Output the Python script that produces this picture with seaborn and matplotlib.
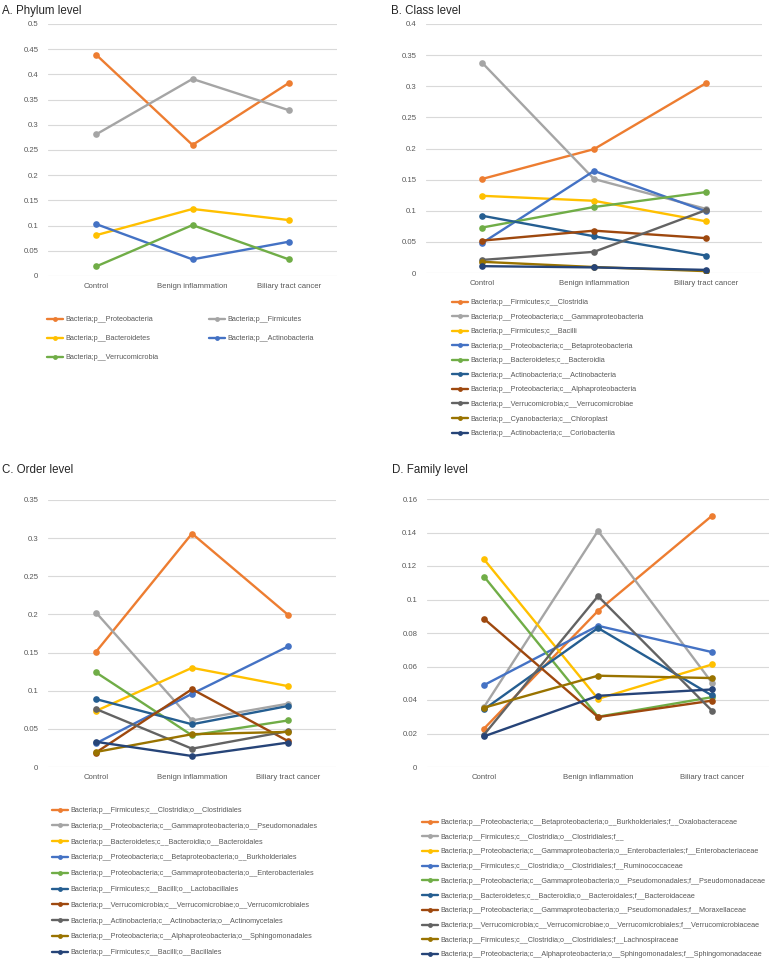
import pandas as pd
import numpy as np
import seaborn as sns
import matplotlib.pyplot as plt
from matplotlib.lines import Line2D
from matplotlib.ticker import FuncFormatter

groups = ['Control', 'Benign inflammation', 'Biliary tract cancer']

# Office palette, used in legend order
colors = ['#ED7D31', '#A5A5A5', '#FFC000', '#4472C4', '#70AD47',
          '#255E91', '#9E480E', '#636363', '#997300', '#264478']

phylum_taxa = ['Bacteria;p__Proteobacteria', 'Bacteria;p__Firmicutes',
               'Bacteria;p__Bacteroidetes', 'Bacteria;p__Actinobacteria',
               'Bacteria;p__Verrucomicrobia']
phylum_values = [
    [0.439, 0.260, 0.383],
    [0.281, 0.391, 0.329],
    [0.081, 0.133, 0.111],
    [0.103, 0.033, 0.068],
    [0.019, 0.101, 0.033],
]

class_taxa = ['Bacteria;p__Firmicutes;c__Clostridia',
              'Bacteria;p__Proteobacteria;c__Gammaproteobacteria',
              'Bacteria;p__Firmicutes;c__Bacilli',
              'Bacteria;p__Proteobacteria;c__Betaproteobacteria',
              'Bacteria;p__Bacteroidetes;c__Bacteroidia',
              'Bacteria;p__Actinobacteria;c__Actinobacteria',
              'Bacteria;p__Proteobacteria;c__Alphaproteobacteria',
              'Bacteria;p__Verrucomicrobia;c__Verrucomicrobiae',
              'Bacteria;p__Cyanobacteria;c__Chloroplast',
              'Bacteria;p__Actinobacteria;c__Coriobacteriia']
class_values = [
    [0.151, 0.199, 0.305],
    [0.338, 0.151, 0.103],
    [0.124, 0.116, 0.083],
    [0.048, 0.164, 0.099],
    [0.073, 0.106, 0.130],
    [0.092, 0.059, 0.028],
    [0.052, 0.068, 0.056],
    [0.021, 0.034, 0.101],
    [0.018, 0.0096, 0.003],
    [0.011, 0.009, 0.005],
]

order_taxa = ['Bacteria;p__Firmicutes;c__Clostridia;o__Clostridiales',
              'Bacteria;p__Proteobacteria;c__Gammaproteobacteria;o__Pseudomonadales',
              'Bacteria;p__Bacteroidetes;c__Bacteroidia;o__Bacteroidales',
              'Bacteria;p__Proteobacteria;c__Betaproteobacteria;o__Burkholderiales',
              'Bacteria;p__Proteobacteria;c__Gammaproteobacteria;o__Enterobacteriales',
              'Bacteria;p__Firmicutes;c__Bacilli;o__Lactobacillales',
              'Bacteria;p__Verrucomicrobia;c__Verrucomicrobiae;o__Verrucomicrobiales',
              'Bacteria;p__Actinobacteria;c__Actinobacteria;o__Actinomycetales',
              'Bacteria;p__Proteobacteria;c__Alphaproteobacteria;o__Sphingomonadales',
              'Bacteria;p__Firmicutes;c__Bacilli;o__Bacillales']
order_values = [
    [0.151, 0.306, 0.1995],
    [0.2025, 0.061, 0.083],
    [0.0735, 0.130, 0.106],
    [0.031, 0.096, 0.158],
    [0.124, 0.0415, 0.061],
    [0.089, 0.056, 0.080],
    [0.019, 0.102, 0.034],
    [0.076, 0.024, 0.047],
    [0.0197, 0.043, 0.046],
    [0.033, 0.0144, 0.032],
]

family_taxa = ['Bacteria;p__Proteobacteria;c__Betaproteobacteria;o__Burkholderiales;f__Oxalobacteraceae',
               'Bacteria;p__Firmicutes;c__Clostridia;o__Clostridiales;f__',
               'Bacteria;p__Proteobacteria;c__Gammaproteobacteria;o__Enterobacteriales;f__Enterobacteriaceae',
               'Bacteria;p__Firmicutes;c__Clostridia;o__Clostridiales;f__Ruminococcaceae',
               'Bacteria;p__Proteobacteria;c__Gammaproteobacteria;o__Pseudomonadales;f__Pseudomonadaceae',
               'Bacteria;p__Bacteroidetes;c__Bacteroidia;o__Bacteroidales;f__Bacteroidaceae',
               'Bacteria;p__Proteobacteria;c__Gammaproteobacteria;o__Pseudomonadales;f__Moraxellaceae',
               'Bacteria;p__Verrucomicrobia;c__Verrucomicrobiae;o__Verrucomicrobiales;f__Verrucomicrobiaceae',
               'Bacteria;p__Firmicutes;c__Clostridia;o__Clostridiales;f__Lachnospiraceae',
               'Bacteria;p__Proteobacteria;c__Alphaproteobacteria;o__Sphingomonadales;f__Sphingomonadaceae']
family_values = [
    [0.0229, 0.0932, 0.150],
    [0.0358, 0.141, 0.0503],
    [0.124, 0.0407, 0.0612],
    [0.0489, 0.0843, 0.0686],
    [0.1137, 0.030, 0.0417],
    [0.0344, 0.083, 0.0427],
    [0.0885, 0.0298, 0.0396],
    [0.0193, 0.102, 0.0336],
    [0.0354, 0.0545, 0.0531],
    [0.0183, 0.0425, 0.0463],
]

sns.set_style('white')
plt.rcParams['font.family'] = ['Liberation Sans', 'DejaVu Sans']

W, H = 778, 958
fig = plt.figure(figsize=(W / 100, H / 100), dpi=100)


def to_long(taxa, values):
    rows = []
    for taxon, vals in zip(taxa, values):
        for g, v in zip(groups, vals):
            rows.append({'group': g, 'taxon': taxon, 'value': v})
    return pd.DataFrame(rows)


def fmt(v, pos):
    return f'{round(v, 4):g}'


def draw_panel(box, title, title_xy, taxa, values, ymax, ystep,
               leg_xy, ncol, labelspacing, colspacing=2.0):
    l, t, r, b = box
    ax = fig.add_axes([l / W, 1 - b / H, (r - l) / W, (b - t) / H])
    df = to_long(taxa, values)
    pal = colors[:len(taxa)]
    sns.lineplot(data=df, x='group', y='value', hue='taxon', hue_order=taxa,
                 palette=pal, marker='o', markersize=4.8, markeredgewidth=0,
                 linewidth=1.7, sort=False, legend=False, ax=ax)
    ax.set_xlim(-0.5, 2.5)
    ax.set_ylim(0, ymax)
    ax.set_yticks(np.arange(0, ymax + ystep / 2, ystep))
    ax.yaxis.set_major_formatter(FuncFormatter(fmt))
    ax.yaxis.grid(True, color='#D9D9D9', linewidth=0.8)
    ax.xaxis.grid(False)
    ax.set_axisbelow(True)
    sns.despine(ax=ax, left=True, bottom=True)
    ax.tick_params(axis='both', length=0, labelsize=5.6, colors='#595959')
    ax.tick_params(axis='y', pad=7)
    ax.tick_params(axis='x', pad=5)
    ax.set_xlabel('')
    ax.set_ylabel('')
    fig.text(title_xy[0] / W, 1 - title_xy[1] / H, title, fontsize=8.3,
             color='#262626', va='center', ha='left')

    handles = [Line2D([0], [0], color=c, lw=1.7, marker='o', ms=3.5,
                      markeredgewidth=0) for c in pal]
    labels = list(taxa)
    if ncol > 1:
        # legend fills row by row in the reference
        idx = [i for c in range(ncol) for i in range(c, len(taxa), ncol)]
        handles = [handles[i] for i in idx]
        labels = [labels[i] for i in idx]
    fig.legend(handles, labels, loc='upper left',
               bbox_to_anchor=(leg_xy[0] / W, 1 - leg_xy[1] / H),
               ncol=ncol, frameon=False, fontsize=5.2, labelcolor='#595959',
               handlelength=2.2, handletextpad=0.3, borderpad=0,
               borderaxespad=0, labelspacing=labelspacing,
               columnspacing=colspacing)
    return ax


draw_panel((48, 24, 337, 276), 'A. Phylum level', (2, 11),
           phylum_taxa, phylum_values, 0.5, 0.05,
           (47, 316), 2, 1.68, colspacing=7.1)
draw_panel((426, 24, 762, 273), 'B. Class level', (391, 11),
           class_taxa, class_values, 0.4, 0.05,
           (452, 299), 1, 1.04)
draw_panel((48, 500, 336, 767), 'C. Order level', (2, 470),
           order_taxa, order_values, 0.35, 0.05,
           (52, 807), 1, 1.21)
draw_panel((427, 499, 769, 767), 'D. Family level', (392, 470),
           family_taxa, family_values, 0.16, 0.02,
           (422, 819), 1, 1.06)

fig.savefig('out.png', dpi=100)
